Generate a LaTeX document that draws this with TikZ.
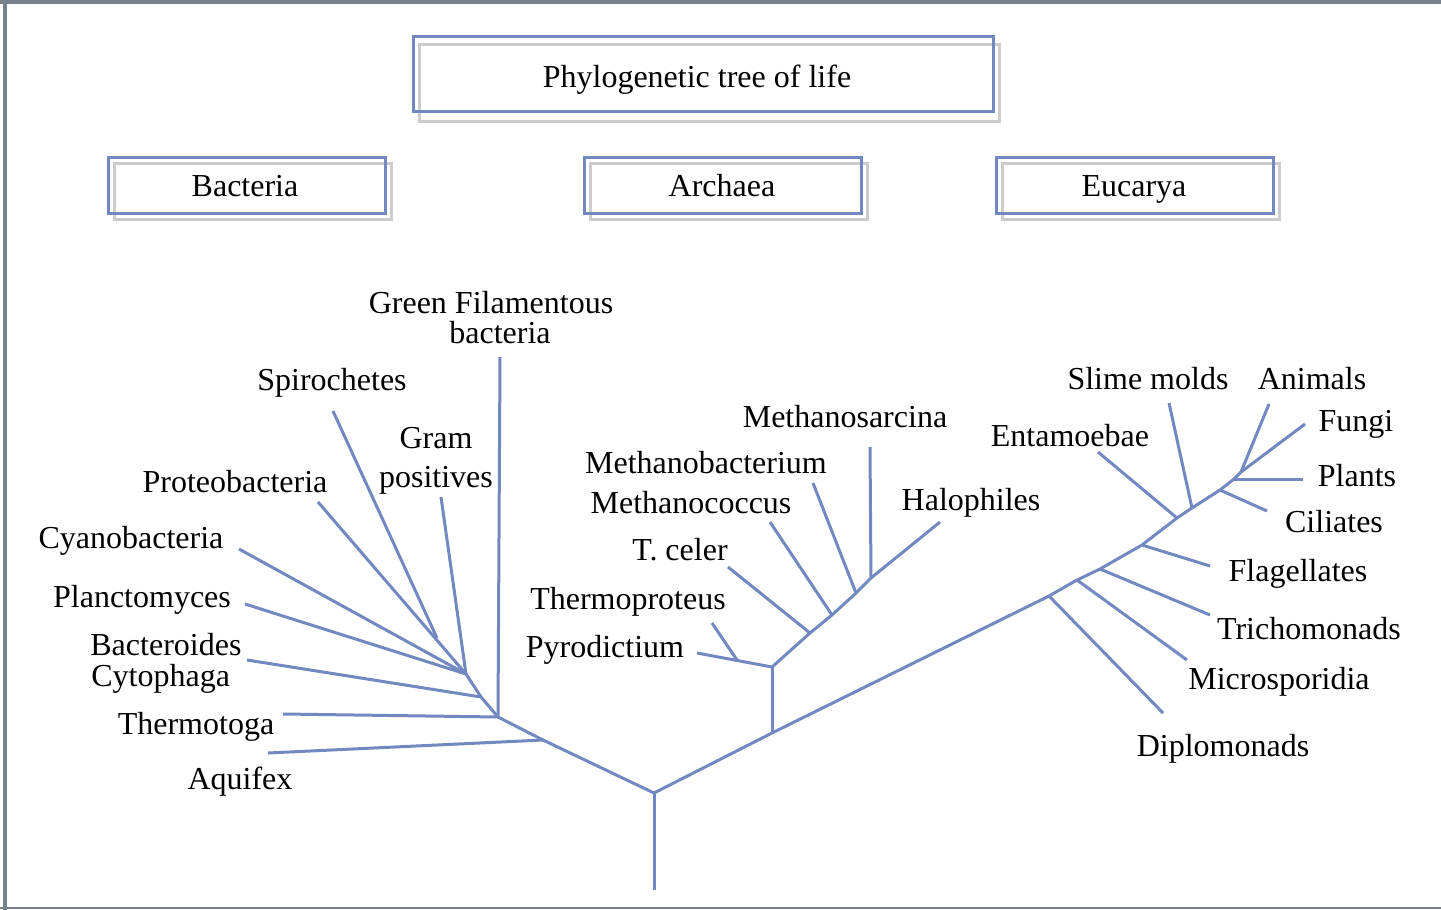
\documentclass[tikz,border=0pt]{standalone}
\usepackage{fontspec}
\setmainfont{Liberation Serif}
\definecolor{treeblue}{RGB}{114,136,192}
\definecolor{shadowgray}{RGB}{204,204,204}
\definecolor{framegray}{RGB}{120,130,140}
\begin{document}
\begin{tikzpicture}[x=0.5pt,y=-0.5pt,
  branch/.style={draw=treeblue,line width=1.5pt},
  lbl/.style={font=\fontsize{16}{18}\selectfont,inner sep=0pt,text height=10.6pt,text depth=0pt},
  bluebox/.style={draw=treeblue,line width=1.5pt},
  graybox/.style={draw=shadowgray,line width=1.5pt},
  framestyle/.style={draw=framegray}]
\useasboundingbox (0,0) rectangle (1441,910);
% frame
\draw[framestyle,line width=2pt] (0,2) -- (1441,2);
\draw[framestyle,line width=2pt] (5,0) -- (5,910);
\draw[framestyle,line width=1pt] (0,908) -- (1441,908);
% header boxes
\draw[graybox] (419,44) rectangle (999,121);
\draw[bluebox] (413,36) rectangle (993,111);
\node[lbl] (title) at (697,77) {Phylogenetic tree of life};
\draw[graybox] (114,163) rectangle (391,219);
\draw[bluebox] (108,157) rectangle (385,213);
\node[lbl] (bact) at (245,186) {Bacteria};
\draw[graybox] (590,163) rectangle (867,219);
\draw[bluebox] (584,157) rectangle (861,213);
\node[lbl] (arch) at (722,186) {Archaea};
\draw[graybox] (1002,163) rectangle (1279,219);
\draw[bluebox] (996,157) rectangle (1273,213);
\node[lbl] (euc) at (1134,186) {Eucarya};

% junction coordinates
\coordinate (root) at (654,890);
\coordinate (r0) at (654,793);
\coordinate (b1) at (543,740);
\coordinate (b2) at (498,717);
\coordinate (b3) at (466,674);
\coordinate (b4) at (481,697);
\coordinate (a0) at (772,733);
\coordinate (a1) at (772,667);
\coordinate (a2) at (810,633);
\coordinate (a3) at (832,615);
\coordinate (a4) at (856,593);
\coordinate (a5) at (871,578);
\coordinate (aP) at (737,660);
\coordinate (e1) at (1049,596);
\coordinate (e2) at (1077,580);
\coordinate (e3) at (1100,569);
\coordinate (e4) at (1142,545);
\coordinate (e5) at (1177,518);
\coordinate (e6) at (1192,508);
\coordinate (e7) at (1220,490);
\coordinate (e8) at (1234,479);
\coordinate (e9) at (1241,472);
% leaf ends
\coordinate (lAq) at (268,753);
\coordinate (lTt) at (283,714);
\coordinate (lGF) at (500,357);
\coordinate (lBC) at (247,660);
\coordinate (lPl) at (245,604);
\coordinate (lCy) at (239,549);
\coordinate (lPr) at (318,502);
\coordinate (lSp) at (333,411);
\coordinate (lSpE) at (437,638);
\coordinate (lGP) at (441,497);
\coordinate (lPy) at (697,653);
\coordinate (lTp) at (712,623);
\coordinate (lTc) at (728,567);
\coordinate (lMc) at (770,522);
\coordinate (lMb) at (813,483);
\coordinate (lMs) at (870,447);
\coordinate (lHa) at (940,522);
\coordinate (lDi) at (1163,713);
\coordinate (lMi) at (1187,660);
\coordinate (lTr) at (1210,615);
\coordinate (lFl) at (1210,566);
\coordinate (lEn) at (1098,452);
\coordinate (lSl) at (1169,403);
\coordinate (lCi) at (1267,511);
\coordinate (lPn) at (1303,479);
\coordinate (lAn) at (1269,404);
\coordinate (lFu) at (1305,424);

% tree
\draw[branch] (root) -- (r0);
\draw[branch] (r0) -- (b1) -- (b2) -- (b4) -- (b3);
\draw[branch] (lAq) -- (b1);
\draw[branch] (lTt) -- (b2);
\draw[branch] (lGF) -- (b2);
\draw[branch] (lBC) -- (b4);
\draw[branch] (lPl) -- (b3);
\draw[branch] (lCy) -- (b3);
\draw[branch] (lPr) -- (b3);
\draw[branch] (lGP) -- (b3);
\draw[branch] (lSp) -- (lSpE);
\draw[branch] (r0) -- (a0) -- (e1) -- (e2) -- (e3) -- (e4) -- (e5) -- (e6) -- (e7) -- (e8) -- (e9);
\draw[branch] (a0) -- (a1);
\draw[branch] (a1) -- (a2) -- (a3) -- (a4) -- (a5) -- (lHa);
\draw[branch] (lPy) -- (a1);
\draw[branch] (lTp) -- (aP);
\draw[branch] (lTc) -- (a2);
\draw[branch] (lMc) -- (a3);
\draw[branch] (lMb) -- (a4);
\draw[branch] (lMs) -- (a5);
\draw[branch] (lDi) -- (e1);
\draw[branch] (lMi) -- (e2);
\draw[branch] (lTr) -- (e3);
\draw[branch] (lFl) -- (e4);
\draw[branch] (lEn) -- (e5);
\draw[branch] (lSl) -- (e6);
\draw[branch] (lCi) -- (e7);
\draw[branch] (lPn) -- (e8);
\draw[branch] (lAn) -- (e9);
\draw[branch] (lFu) -- (e9);

% labels
\node[lbl] (tGF) at (491,303) {Green Filamentous};
\node[lbl] (tGF2) at (500,333) {bacteria};
\node[lbl] (tSp) at (332,380) {Spirochetes};
\node[lbl] (tGP) at (436,438) {Gram};
\node[lbl] (tGP2) at (436,477) {positives};
\node[lbl] (tPr) at (235,482) {Proteobacteria};
\node[lbl] (tCy) at (131,538) {Cyanobacteria};
\node[lbl] (tPl) at (142,597) {Planctomyces};
\node[lbl,anchor=west] (tBC) at (90,645) {Bacteroides};
\node[lbl,anchor=west] (tBC2) at (91,676) {Cytophaga};
\node[lbl] (tTt) at (196,724) {Thermotoga};
\node[lbl] (tAq) at (240,779) {Aquifex};
\node[lbl] (tMs) at (845,417) {Methanosarcina};
\node[lbl] (tMb) at (706,463) {Methanobacterium};
\node[lbl] (tMc) at (691,503) {Methanococcus};
\node[lbl] (tTc) at (680,550) {T. celer};
\node[lbl] (tTp) at (628,599) {Thermoproteus};
\node[lbl] (tPy) at (605,647) {Pyrodictium};
\node[lbl] (tHa) at (971,500) {Halophiles};
\node[lbl] (tSl) at (1148,379) {Slime molds};
\node[lbl] (tAn) at (1312,379) {Animals};
\node[lbl] (tEn) at (1070,436) {Entamoebae};
\node[lbl] (tFu) at (1356,421) {Fungi};
\node[lbl] (tPn) at (1357,476) {Plants};
\node[lbl] (tCi) at (1334,522) {Ciliates};
\node[lbl] (tFl) at (1298,571) {Flagellates};
\node[lbl] (tTr) at (1309,629) {Trichomonads};
\node[lbl] (tMi) at (1279,679) {Microsporidia};
\node[lbl] (tDi) at (1223,746) {Diplomonads};
\end{tikzpicture}
\end{document}
